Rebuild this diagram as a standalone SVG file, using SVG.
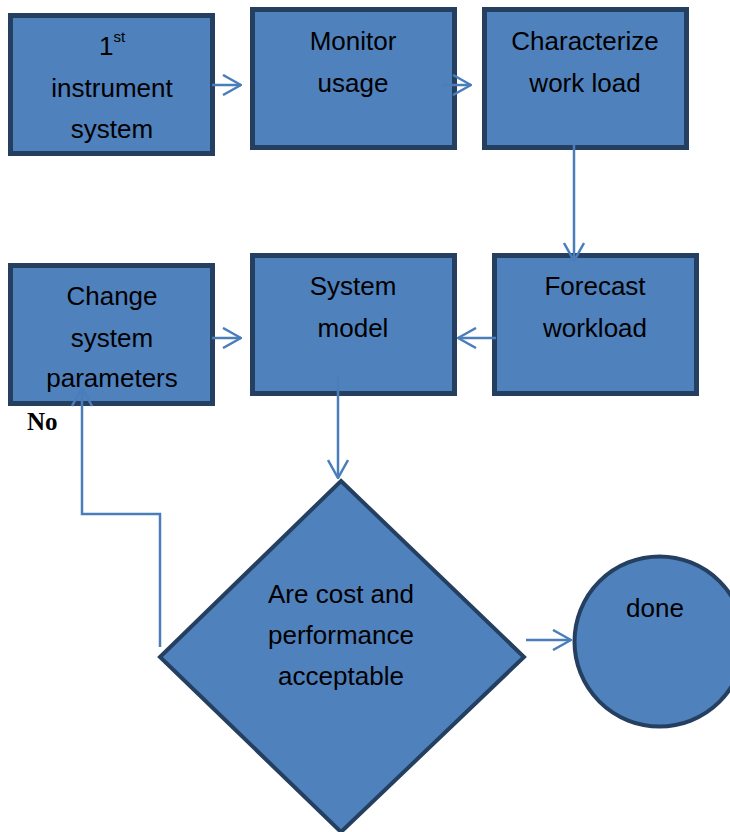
<svg xmlns="http://www.w3.org/2000/svg" width="730" height="832" viewBox="0 0 730 832">
<defs>
<style>
.n{fill:#4F81BD;stroke:#243F60;stroke-width:5}
.d{fill:#4F81BD;stroke:#243F60;stroke-width:4}
.t{font-family:"Liberation Sans",Arial,sans-serif;font-size:26px;fill:#000;text-anchor:middle}
.c{fill:none;stroke:#4A7EBB;stroke-width:2.5}
</style>
<marker id="ah" viewBox="0 0 20 22" refX="19" refY="11" markerWidth="20" markerHeight="22" markerUnits="userSpaceOnUse" orient="auto">
<path d="M1,1 L19,11 L1,21" fill="none" stroke="#4A7EBB" stroke-width="2.5"/>
</marker>
</defs>
<rect width="730" height="832" fill="#fff"/>
<g id="instrument">
<rect class="n" x="10.5" y="15.5" width="202" height="138"/>
<text class="t" x="112" y="55">1<tspan font-size="15" dy="-13">st</tspan></text>
<text class="t" x="112" y="97">instrument</text>
<text class="t" x="112" y="138">system</text>
</g>
<g id="monitor">
<rect class="n" x="252.5" y="9.5" width="202" height="138"/>
<text class="t" x="353" y="50">Monitor</text>
<text class="t" x="353" y="92">usage</text>
</g>
<g id="characterize">
<rect class="n" x="484.5" y="9.5" width="202" height="138"/>
<text class="t" x="585" y="50">Characterize</text>
<text class="t" x="585" y="92">work load</text>
</g>
<g id="change">
<rect class="n" x="10.5" y="265.5" width="202" height="138"/>
<text class="t" x="112" y="305">Change</text>
<text class="t" x="112" y="347">system</text>
<text class="t" x="112" y="387">parameters</text>
</g>
<g id="model">
<rect class="n" x="252.5" y="255.5" width="202" height="138"/>
<text class="t" x="353" y="295">System</text>
<text class="t" x="353" y="337">model</text>
</g>
<g id="forecast">
<rect class="n" x="494.5" y="255.5" width="202" height="138"/>
<text class="t" x="595" y="295">Forecast</text>
<text class="t" x="595" y="337">workload</text>
</g>
<g id="decision">
<polygon class="d" points="341,481 524,657 341,832 160,657"/>
<text class="t" x="341" y="603">Are cost and</text>
<text class="t" x="341" y="644">performance</text>
<text class="t" x="341" y="685">acceptable</text>
</g>
<g id="done">
<circle class="d" cx="659.5" cy="641.5" r="85"/>
<text class="t" x="655" y="617">done</text>
</g>
<g id="connectors">
<line class="c" x1="212" y1="85" x2="241" y2="85" marker-end="url(#ah)"/>
<line class="c" x1="442" y1="85" x2="471" y2="85" marker-end="url(#ah)"/>
<line class="c" x1="574" y1="145" x2="574" y2="261" marker-end="url(#ah)"/>
<line class="c" x1="496" y1="338" x2="458" y2="338" marker-end="url(#ah)"/>
<line class="c" x1="212" y1="338" x2="241" y2="338" marker-end="url(#ah)"/>
<line class="c" x1="338" y1="377" x2="338" y2="478" marker-end="url(#ah)"/>
<line class="c" x1="526" y1="640" x2="571" y2="640" marker-end="url(#ah)"/>
<polyline class="c" points="160,647 160,514 82,514 82,388" marker-end="url(#ah)"/>
<text x="27" y="430" font-family="'Liberation Serif','Times New Roman',serif" font-weight="bold" font-size="25" fill="#000">No</text>
</g>
</svg>
